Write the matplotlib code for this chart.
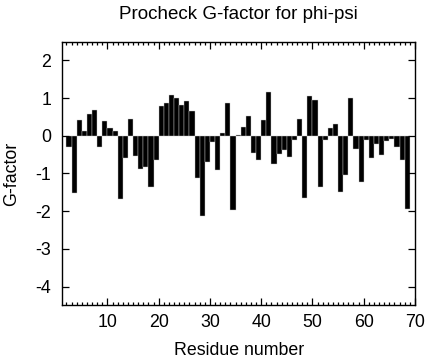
import matplotlib
matplotlib.use("Agg")
import matplotlib.pyplot as plt
from matplotlib.ticker import MultipleLocator

plt.rcParams['font.family'] = ['Liberation Sans', 'DejaVu Sans']
plt.rcParams['axes.unicode_minus'] = False

# residue numbers and G-factor values
residues = list(range(2, 69))
gfactor = [
    -0.31, -1.53, 0.42, 0.12, 0.58, 0.67, -0.31, 0.40, 0.21, 0.13,   # 2-11
    -1.68, -0.60, 0.45, -0.55, -0.89, -0.84, -1.35, -0.65, 0.78, 0.88,  # 12-21
    1.09, 0.99, 0.82, 0.91, 0.66, -1.13, -2.12, -0.69, -0.17, -0.91,   # 22-31
    0.06, 0.88, -1.96, 0.02, 0.23, 0.53, -0.46, -0.63, 0.43, 1.15,     # 32-41
    -0.76, -0.49, -0.38, -0.57, -0.12, 0.44, -1.66, 1.05, 0.94, -1.35,  # 42-51
    -0.12, 0.21, 0.31, -1.49, -1.05, 1.01, -0.35, -1.23, -0.12, -0.60,  # 52-61
    -0.23, -0.52, -0.14, -0.09, -0.31, -0.65, -1.95,                   # 62-68
]
x_ticks = [10, 20, 30, 40, 50, 60, 70]
y_ticks = [2, 1, 0, -1, -2, -3, -4]

fig = plt.figure(figsize=(4.32, 3.6), dpi=100)
ax = fig.add_axes([0.1442, 0.1517, 0.8164, 0.733])

ax.bar(residues, gfactor, width=1.0, align='edge', color='black',
       edgecolor='#c8c8c8', linewidth=0.3)

ax.set_xlim(1.2, 70)
ax.set_ylim(-4.5, 2.5)
ax.set_xticks(x_ticks)
ax.set_yticks(y_ticks)
ax.xaxis.set_minor_locator(MultipleLocator(1))

ax.tick_params(which='both', direction='in', top=True, right=True,
               labelsize=12.8, width=0.9)
ax.tick_params(which='major', length=5)
ax.tick_params(which='minor', length=2.5)
ax.tick_params(axis='x', pad=6)
ax.tick_params(axis='y', pad=8)
for s in ax.spines.values():
    s.set_linewidth(1.0)

ax.set_title("Procheck G-factor for phi-psi", fontsize=13.5, pad=16.5)
ax.set_xlabel("Residue number", fontsize=12.8, labelpad=8)
ax.set_ylabel("G-factor", fontsize=12.8, labelpad=11)

fig.savefig("out.png", dpi=100)
